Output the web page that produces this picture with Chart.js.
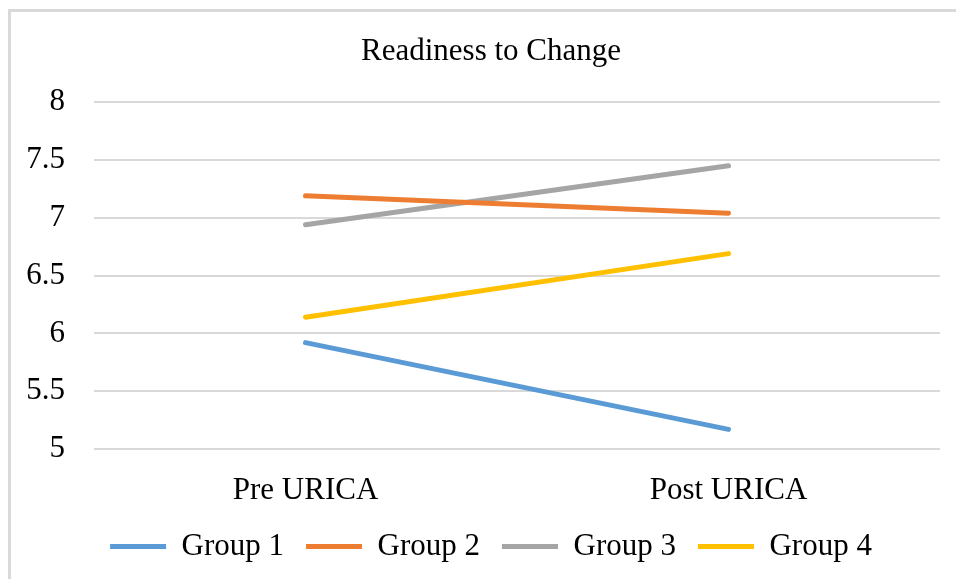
<!DOCTYPE html>
<html>
<head>
<meta charset="utf-8">
<script src="https://cdn.jsdelivr.net/npm/chart.js@4"></script>
<style>
  html, body { margin: 0; padding: 0; background: #fff; overflow: hidden; }
  #wrap { position: relative; width: 956px; height: 579px; }
  #frame { position: absolute; left: 8px; top: 9px; width: 960px; height: 600px;
           border-left: 3px solid #d9d9d9; border-top: 3px solid #d9d9d9; }
  canvas { position: absolute; left: 0; top: 0; }
</style>
</head>
<body>
<div id="wrap">
  <div id="frame"></div>
  <canvas id="readinessChart" width="956" height="579"></canvas>
</div>
<script>
const labels = ['Pre URICA', 'Post URICA'];
const group1 = [5.92, 5.17];
const group2 = [7.19, 7.04];
const group3 = [6.94, 7.45];
const group4 = [6.14, 6.69];
const yTicks = [5, 5.5, 6, 6.5, 7, 7.5, 8];

const font = { family: '"Liberation Serif", "Times New Roman", serif', size: 31, weight: 'normal' };

function line(label, data, color) {
  return {
    label: label,
    data: data,
    borderColor: color,
    backgroundColor: color,
    borderWidth: 5,
    borderCapStyle: 'round',
    pointRadius: 0,
    pointStyle: 'line',
    tension: 0
  };
}

// title and legend sit a little right of the plot's centre in the original
const nudge = {
  id: 'nudge',
  afterLayout(chart) {
    [chart.titleBlock, chart.legend].forEach(b => {
      if (b) { b.left += 8; b.right += 8; }
    });
  }
};

new Chart(document.getElementById('readinessChart'), {
  type: 'line',
  data: {
    labels: labels,
    datasets: [
      line('Group 1', group1, '#5b9bd5'),
      line('Group 2', group2, '#ed7d31'),
      line('Group 3', group3, '#a5a5a5'),
      line('Group 4', group4, '#ffc000')
    ]
  },
  options: {
    responsive: false,
    animation: false,
    layout: { padding: { left: 26, right: 16, top: 0, bottom: 7 } },
    plugins: {
      title: {
        display: true,
        text: 'Readiness to Change',
        color: '#000',
        font: font,
        padding: { top: 33, bottom: 32 }
      },
      legend: {
        position: 'bottom',
        labels: {
          color: '#000',
          font: font,
          usePointStyle: true,
          pointStyleWidth: 56,
          boxHeight: 5,
          padding: 22
        }
      },
      tooltip: { enabled: false }
    },
    scales: {
      x: {
        offset: true,
        afterFit: s => { s.height = 60; },
        grid: { display: false, drawTicks: false },
        border: { display: false },
        ticks: { color: '#000', font: font, padding: 23 }
      },
      y: {
        min: 5,
        max: 8,
        afterBuildTicks: s => { s.ticks = yTicks.map(v => ({ value: v })); },
        afterFit: s => { s.width = 68; },
        grid: { color: '#d9d9d9', lineWidth: 2, drawTicks: false },
        border: { display: false },
        ticks: { color: '#000', font: font, padding: 29, callback: v => String(v) }
      }
    }
  },
  plugins: [nudge]
});
</script>
</body>
</html>
